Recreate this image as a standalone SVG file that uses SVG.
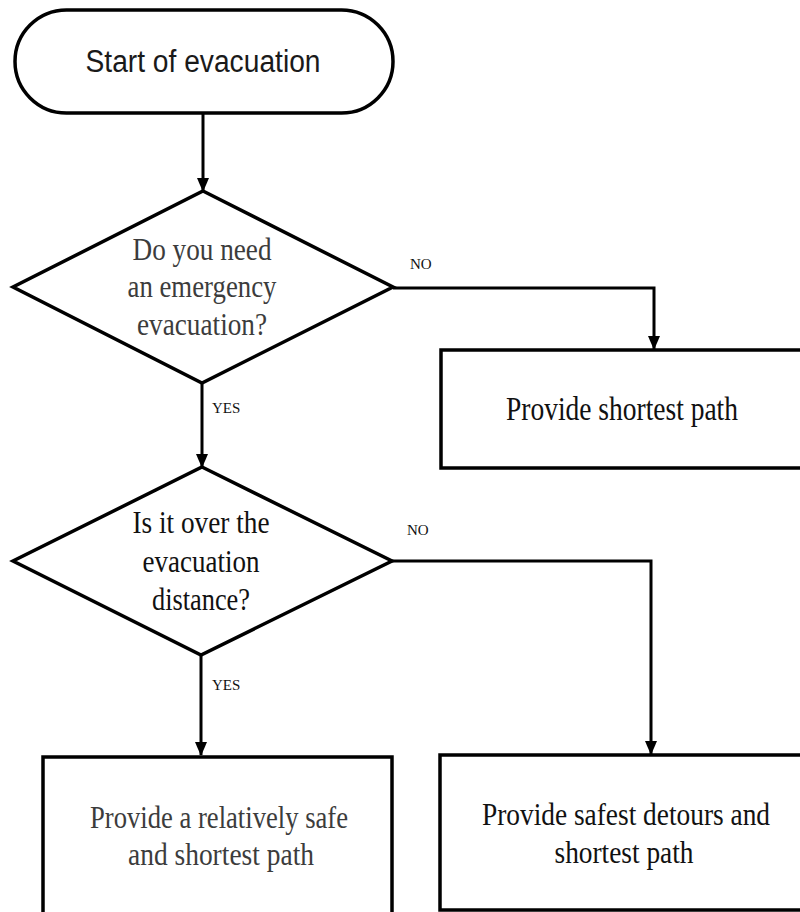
<svg xmlns="http://www.w3.org/2000/svg" width="800" height="912" viewBox="0 0 800 912">
<defs>
<style>
.shape{fill:#fff;stroke:#000;stroke-width:3.5}
.conn{fill:none;stroke:#000;stroke-width:3}
.lbl{font-family:"Liberation Serif","Times New Roman",serif;font-size:15px;fill:#111}
.t{font-family:"Liberation Serif","Times New Roman",serif;font-size:32px;fill:#111;text-anchor:middle}
.big{font-size:33px}
.g{fill:#3c3c3c}
.s{font-family:"Liberation Sans Narrow","Liberation Sans",Arial,sans-serif;font-size:31px;fill:#1a1a1a;text-anchor:middle}
</style>
</defs>
<rect width="800" height="912" fill="#fff"/>
<g id="connectors">
<path class="conn" d="M203,113 V191"/>
<path class="conn" d="M202,383 V467"/>
<path class="conn" d="M393,288 H654 V350"/>
<path class="conn" d="M201,655 V755"/>
<path class="conn" d="M392,561 H651 V755"/>
<path d="M197,178 L209,178 L203,192 Z"/>
<path d="M196,454 L208,454 L202,468 Z"/>
<path d="M648,336 L660,336 L654,350 Z"/>
<path d="M195,742 L207,742 L201,756 Z"/>
<path d="M645,741 L657,741 L651,755 Z"/>
</g>
<g id="start">
<rect class="shape" x="15" y="10" width="378" height="103" rx="51.5" ry="51.5"/>
<text class="s" x="203" y="72" textLength="235" lengthAdjust="spacingAndGlyphs">Start of evacuation</text>
</g>
<g id="decision1">
<polygon class="shape" points="203,191 393,287 202,383 13,287"/>
<text class="t g" x="202" y="260" textLength="139" lengthAdjust="spacingAndGlyphs">Do you need</text>
<text class="t g" x="202" y="297" textLength="149" lengthAdjust="spacingAndGlyphs">an emergency</text>
<text class="t g" x="202" y="335" textLength="130" lengthAdjust="spacingAndGlyphs">evacuation?</text>
</g>
<g id="decision2">
<polygon class="shape" points="202,467 392,561 201,655 13,561"/>
<text class="t" x="201" y="533" textLength="137" lengthAdjust="spacingAndGlyphs">Is it over the</text>
<text class="t" x="201" y="572" textLength="117" lengthAdjust="spacingAndGlyphs">evacuation</text>
<text class="t" x="201" y="610" textLength="98" lengthAdjust="spacingAndGlyphs">distance?</text>
</g>
<g id="box-shortest">
<rect class="shape" x="441" y="350" width="380" height="118"/>
<text class="t big" x="622" y="420" textLength="232" lengthAdjust="spacingAndGlyphs">Provide shortest path</text>
</g>
<g id="box-relsafe">
<rect class="shape" x="43" y="757" width="349" height="180"/>
<text class="t g" x="219" y="828" textLength="258" lengthAdjust="spacingAndGlyphs">Provide a relatively safe</text>
<text class="t g" x="221" y="865" textLength="186" lengthAdjust="spacingAndGlyphs">and shortest path</text>
</g>
<g id="box-safest">
<rect class="shape" x="440" y="755" width="380" height="155"/>
<text class="t" x="626" y="825" textLength="288" lengthAdjust="spacingAndGlyphs">Provide safest detours and</text>
<text class="t" x="624" y="863" textLength="139" lengthAdjust="spacingAndGlyphs">shortest path</text>
</g>
<g id="labels">
<text class="lbl" x="410" y="269">NO</text>
<text class="lbl" x="212" y="413">YES</text>
<text class="lbl" x="407" y="535">NO</text>
<text class="lbl" x="212" y="690">YES</text>
</g>
</svg>
